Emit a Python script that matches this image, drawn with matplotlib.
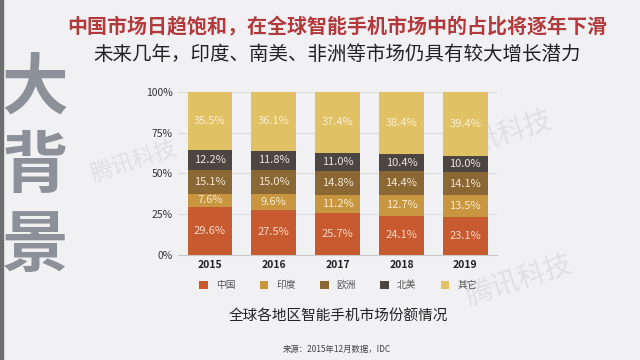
import matplotlib.pyplot as plt
import numpy as np

plt.rcParams['font.family'] = ['Noto Sans CJK SC', 'DejaVu Sans']

# data
years = ['2015', '2016', '2017', '2018', '2019']
regions = ['中国', '印度', '欧洲', '北美', '其它']
china = [29.6, 27.5, 25.7, 24.1, 23.1]
india = [7.6, 9.6, 11.2, 12.7, 13.5]
europe = [15.1, 15.0, 14.8, 14.4, 14.1]
north_america = [12.2, 11.8, 11.0, 10.4, 10.0]
others = [35.5, 36.1, 37.4, 38.4, 39.4]
yticks = [0, 25, 50, 75, 100]

colors = ['#C85A30', '#C7963F', '#8A6733', '#4B4641', '#E0C265']
label_colors = ['#F6D8C6', '#F8EAD0', '#F3E6D0', '#E8E4DE', '#F8EFD2']

fig = plt.figure(figsize=(6.4, 3.6), dpi=100, facecolor='#F1F1F3')

# left strip + big title chars
fig.patches.append(plt.Rectangle((0, 0), 0.004, 1, transform=fig.transFigure,
                                 color='#6E6E70', zorder=0))
for ch, yy in zip('大背景', [0.75, 0.535, 0.315]):
    fig.text(0.054, yy, ch, fontsize=48, fontweight='heavy', color='#8C9199',
             ha='center', va='center')

# faint watermarks (behind the chart)
for (wx, wy, s) in [(0.78, 0.62, 20), (0.81, 0.22, 20), (0.21, 0.55, 16)]:
    fig.text(wx, wy, '腾讯科技', fontsize=s, color='#E0E0E2', rotation=18,
             ha='center', va='center', zorder=-1)

fig.text(0.527, 0.926, '中国市场日趋饱和，在全球智能手机市场中的占比将逐年下滑',
         fontsize=14.4, fontweight='bold', color='#B23A3C', ha='center', va='center')
fig.text(0.527, 0.85, '未来几年，印度、南美、非洲等市场仍具有较大增长潜力',
         fontsize=14, color='#222222', ha='center', va='center')

ax = fig.add_axes([0.278, 0.292, 0.499, 0.453])
ax.set_facecolor('none')
x = np.arange(len(years))
series = [china, india, europe, north_america, others]
bottom = np.zeros(len(years))
for vals, name, c, lc in zip(series, regions, colors, label_colors):
    vals = np.array(vals)
    ax.bar(x, vals, 0.7, bottom=bottom, color=c, label=name, zorder=2)
    for xi, b, v in zip(x, bottom, vals):
        ax.text(xi, b + v / 2, f'{v:.1f}%', ha='center', va='center',
                fontsize=8, color=lc, zorder=3)
    bottom += vals

ax.set_xlim(-0.5, 4.5)
ax.set_ylim(0, 100)
ax.set_yticks(yticks)
ax.set_yticklabels([f'{t}%' for t in yticks], fontsize=7.5, color='#333333')
ax.set_xticks(x)
ax.set_xticklabels(years, fontsize=7.5, fontweight='bold', color='#222222')
ax.tick_params(length=0, pad=4)
ax.yaxis.grid(True, color='#DCDCDC', lw=0.8, zorder=0)
for s in ['top', 'right', 'left']:
    ax.spines[s].set_visible(False)
ax.spines['bottom'].set_color('#C8C8C8')

leg = fig.legend(*ax.get_legend_handles_labels(), loc='center', ncol=5,
                 bbox_to_anchor=(0.528, 0.208), frameon=False, fontsize=7,
                 handlelength=0.9, handleheight=0.9, columnspacing=2.5,
                 handletextpad=0.8)
for t in leg.get_texts():
    t.set_color('#555555')

fig.text(0.528, 0.12, '全球各地区智能手机市场份额情况', fontsize=10.5,
         color='#222222', ha='center', va='center')
fig.text(0.527, 0.028, '来源：2015年12月数据，IDC', fontsize=6,
         color='#444444', ha='center', va='center')

fig.savefig('out.png', dpi=100, facecolor=fig.get_facecolor())
